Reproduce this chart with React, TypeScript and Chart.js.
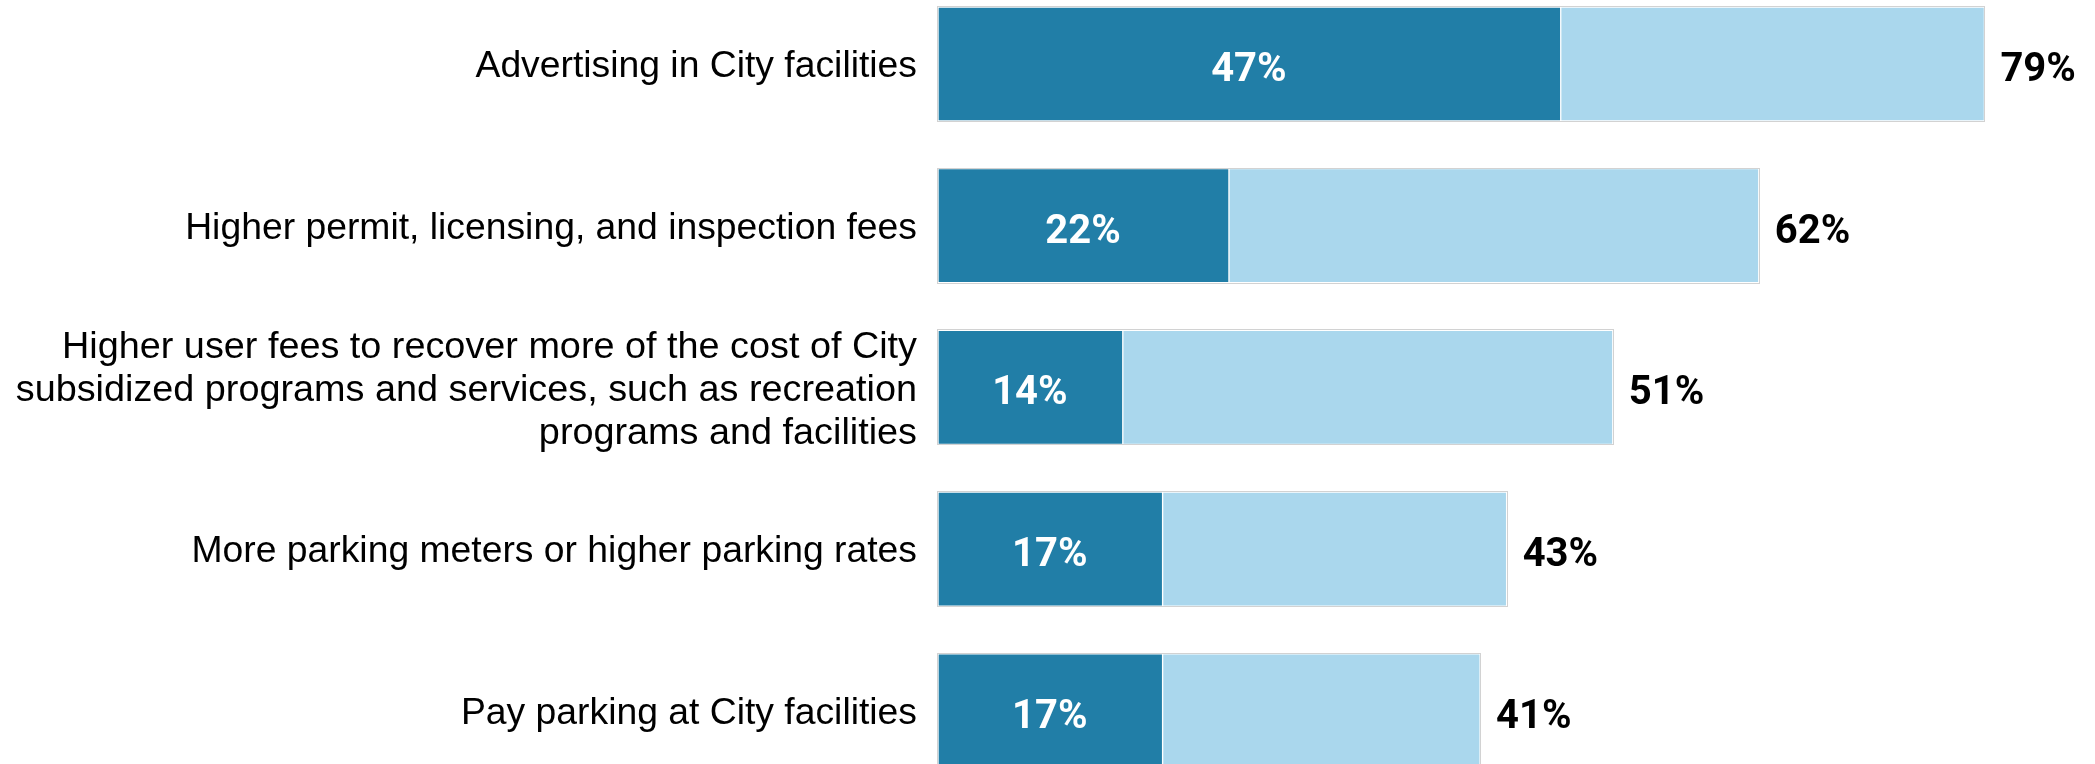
import React, { useEffect, useRef } from "react";
import { Chart, registerables } from "chart.js";

Chart.register(...registerables);

const categories: string[][] = [
  ["Advertising in City facilities"],
  ["Higher permit, licensing, and inspection fees"],
  [
    "Higher user fees to recover more of the cost of City",
    "subsidized programs and services, such as recreation",
    "programs and facilities",
  ],
  ["More parking meters or higher parking rates"],
  ["Pay parking at City facilities"],
];
const strongValues = [47, 22, 14, 17, 17];
const totalValues = [79, 62, 51, 43, 41];

const DARK = "#217ea7";
const LIGHT = "#aad7ed";
const OUTLINE = "#d2d2d2";
const VALUE_FONT = "bold 40px Roboto";
const LABEL_FAMILY = "'Liberation Sans', Arial, sans-serif";

const labelPlugin = {
  id: "barLabels",
  afterDatasetsDraw(chart: any) {
    const ctx = chart.ctx;
    const darkMeta = chart.getDatasetMeta(0);
    const lightMeta = chart.getDatasetMeta(1);
    ctx.save();
    darkMeta.data.forEach((dark: any, i: number) => {
      const light = lightMeta.data[i];
      const left = Math.min(dark.base, dark.x);
      const right = light.x;
      const top = dark.y - dark.height / 2;
      const h = dark.height;
      ctx.strokeStyle = OUTLINE;
      ctx.lineWidth = 1;
      ctx.strokeRect(Math.round(left) + 0.5, Math.round(top) + 0.5, Math.round(right - left) - 1, Math.round(h) - 1);
      ctx.font = VALUE_FONT;
      ctx.textBaseline = "alphabetic";
      ctx.fillStyle = "#ffffff";
      ctx.textAlign = "center";
      ctx.fillText(strongValues[i] + "%", (dark.base + dark.x) / 2, dark.y + 17);
      ctx.fillStyle = "#000000";
      ctx.textAlign = "left";
      ctx.fillText(totalValues[i] + "%", right + 15, dark.y + 17);
    });
    ctx.restore();
  },
};

export default function App() {
  const ref = useRef<HTMLCanvasElement | null>(null);
  useEffect(() => {
    document.body.style.margin = "0";
    document.body.style.overflow = "hidden";
    const canvas = ref.current;
    if (!canvas) return;
    const idx = categories.map((_, i) => i);
    const chart = new Chart(canvas, {
      type: "bar",
      data: {
        datasets: [
          {
            label: "Strongly",
            data: idx.map((i) => ({ x: strongValues[i], y: i })),
            backgroundColor: DARK,
            borderColor: "#ffffff",
            borderWidth: { left: 2, top: 2, bottom: 2, right: 1 },
            borderSkipped: false,
            barThickness: 116,
          },
          {
            label: "Somewhat",
            data: idx.map((i) => ({ x: totalValues[i] - strongValues[i], y: i })),
            backgroundColor: LIGHT,
            borderColor: "#ffffff",
            borderWidth: { left: 1, top: 2, bottom: 2, right: 2 },
            borderSkipped: false,
            barThickness: 116,
          },
        ],
      },
      options: {
        indexAxis: "y",
        responsive: false,
        animation: false,
        layout: { padding: 0 },
        plugins: { legend: { display: false }, tooltip: { enabled: false } },
        scales: {
          x: {
            type: "linear",
            stacked: true,
            display: false,
            offset: false,
            min: 0,
            max: 87.26,
          },
          y: {
            type: "linear",
            stacked: true,
            reverse: true,
            offset: false,
            min: -0.3958,
            max: 4.329,
            grid: { display: false },
            border: { display: false },
            afterBuildTicks: (axis: any) => {
              axis.ticks = categories.map((_, i) => ({ value: i }));
            },
            afterFit: (axis: any) => {
              axis.width = 937;
              axis.paddingTop = 0;
              axis.paddingBottom = 0;
            },
            ticks: {
              autoSkip: false,
              padding: 12,
              labelOffset: 3,
              color: "#000000",
              font: (c: any) => {
                const cat = categories[c.index] || [""];
                return cat.length > 1
                  ? { family: LABEL_FAMILY, size: 37.8, lineHeight: 1.14 }
                  : { family: LABEL_FAMILY, size: 37.3, lineHeight: 1.14 };
              },
              callback: (v: any) => {
                const c = categories[Math.round(Number(v))];
                return c ? (c.length === 1 ? c[0] : c) : "";
              },
            },
          },
        },
      },
      plugins: [labelPlugin],
    } as any);
    return () => chart.destroy();
  }, []);
  return (
    <canvas ref={ref} width={2095} height={764} style={{ display: "block", width: 2095, height: 764 }} />
  );
}
